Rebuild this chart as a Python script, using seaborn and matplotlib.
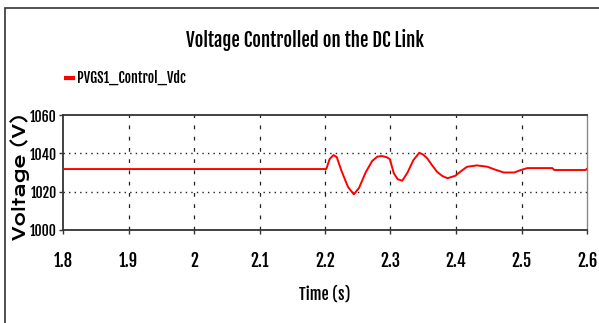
import matplotlib
matplotlib.use("Agg")
import matplotlib.pyplot as plt
from matplotlib.lines import Line2D
from matplotlib.patches import Rectangle
import seaborn as sns
import pandas as pd

sns.set_theme(style="white")
plt.rcParams["font.family"] = ["Fjalla One", "DejaVu Sans"]
plt.rcParams["text.color"] = "black"
plt.rcParams["axes.labelcolor"] = "black"

# DC link voltage response (time in s, voltage in V)
time_s = [1.80, 2.202, 2.207, 2.213, 2.218, 2.225, 2.235, 2.244, 2.252, 2.262,
          2.272, 2.280, 2.287, 2.294, 2.299, 2.305, 2.311, 2.318, 2.326, 2.335,
          2.344, 2.350, 2.356, 2.363, 2.371, 2.379, 2.387, 2.399, 2.408, 2.417,
          2.432, 2.448, 2.458, 2.473, 2.489, 2.499, 2.509, 2.547, 2.550, 2.598, 2.600]
voltage_v = [1031.8, 1031.8, 1037.0, 1039.1, 1038.0, 1031.0, 1022.5, 1018.6, 1022.0, 1030.0,
             1036.0, 1038.3, 1038.6, 1038.0, 1037.0, 1029.6, 1026.5, 1025.7, 1030.0, 1036.5,
             1040.3, 1039.3, 1037.4, 1034.0, 1030.4, 1028.2, 1027.0, 1028.3, 1030.8, 1033.0,
             1033.7, 1033.0, 1031.7, 1030.0, 1030.0, 1031.3, 1032.3, 1032.3, 1031.3, 1031.3, 1032.0]

x_ticks = [1.8, 1.9, 2.0, 2.1, 2.2, 2.3, 2.4, 2.5, 2.6]
x_tick_labels = ["1.8", "1.9", "2", "2.1", "2.2", "2.3", "2.4", "2.5", "2.6"]
y_ticks = [1000, 1020, 1040, 1060]
series_name = "PVGS1_Control_Vdc"

df = pd.DataFrame({"Time (s)": time_s, "Voltage (V)": voltage_v})

W, H = 599, 323
fig = plt.figure(figsize=(W / 100, H / 100), dpi=100)
ax = fig.add_axes([63 / W, 93 / H, 524 / W, 115 / H])

sns.lineplot(data=df, x="Time (s)", y="Voltage (V)", ax=ax, color="#ff0000",
             linewidth=1.4, legend=False, zorder=3)

ax.set_xlim(1.8, 2.6)
ax.set_ylim(1000, 1060)
ax.set_xticks(x_ticks)
ax.set_xticklabels(x_tick_labels)
ax.set_yticks(y_ticks)

# grid: dashed verticals, dotted horizontals
for xv in x_ticks[1:-1]:
    ax.axvline(xv, color="#222222", linewidth=0.9, linestyle=(0, (3, 6)), zorder=1)
for yv in [1020, 1040]:
    ax.axhline(yv, color="#222222", linewidth=1.0, linestyle=(0, (1, 3)), zorder=1)

for side in ["top", "bottom", "left"]:
    ax.spines[side].set_color("#333333")
    ax.spines[side].set_linewidth(1.3)
ax.spines["right"].set_color("#888888")
ax.spines["right"].set_linewidth(1.0)

ax.tick_params(axis="both", direction="out", length=3, width=1.0, color="#333333",
               labelcolor="black", bottom=True, left=True)
ax.tick_params(axis="x", pad=12, labelsize=12)
ax.tick_params(axis="y", pad=1.5, labelsize=10)

ax.set_xlabel("Time (s)", fontsize=11.5)
ax.xaxis.label.set_va("baseline")
ax.xaxis.set_label_coords(325 / W, 1 - 300 / H, transform=fig.transFigure)

ax.set_ylabel("Voltage (V)", fontsize=12.5, fontweight="bold",
              family=["Krona One", "DejaVu Sans"])
ax.yaxis.label.set_va("center")
ax.yaxis.label.set_ha("center")
ax.yaxis.set_label_coords(20 / W, 1 - 177 / H, transform=fig.transFigure)

fig.text(305 / W, 1 - 47 / H, "Voltage Controlled on the DC Link",
         ha="center", va="baseline", fontsize=13.5)

handle = Line2D([], [], color="#ff0000", linewidth=3, solid_capstyle="butt")
fig.legend([handle], [series_name], loc="center left",
           bbox_to_anchor=(64 / W, 1 - 78 / H), frameon=False,
           handlelength=0.8, handletextpad=0.15, borderaxespad=0, borderpad=0,
           prop={"size": 10})

# outer frame of the figure
fig.patches.append(Rectangle((5 / W, -0.1), 1.2, 1 - 8 / H + 0.1,
                             transform=fig.transFigure, fill=False,
                             edgecolor="#333333", linewidth=1.2))

fig.savefig("out.png", dpi=100)
